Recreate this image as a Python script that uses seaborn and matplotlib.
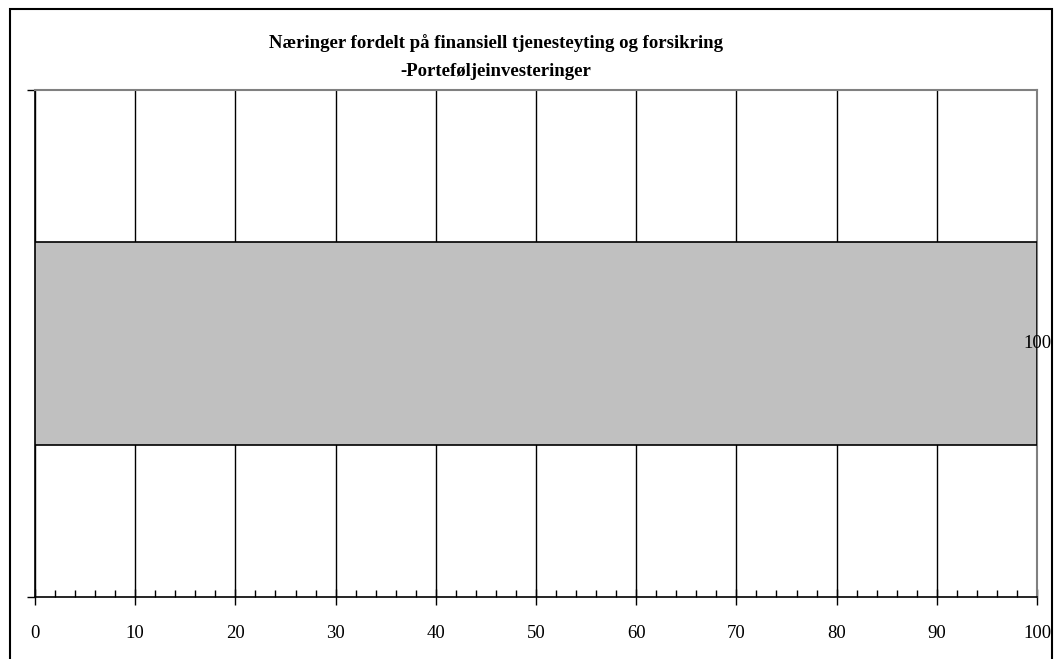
import matplotlib
matplotlib.use("Agg")
import matplotlib.pyplot as plt
import matplotlib.patches as patches
from matplotlib.ticker import MultipleLocator
import pandas as pd
import seaborn as sns

# ------ DATA ------ #
categories = ["Finansiell tjenesteyting og forsikring"]
values = [100]
title = "Næringer fordelt på finansiell tjenesteyting og forsikring\n-Porteføljeinvesteringer"

df = pd.DataFrame({"naering": categories, "andel": values})

# ------ STYLE ------ #
sns.set_style("white", {"text.color": "black", "xtick.color": "black",
                        "ytick.color": "black", "axes.labelcolor": "black"})
plt.rcParams["font.family"] = ["Liberation Serif", "DejaVu Serif"]

fig = plt.figure(figsize=(10.56, 6.59), dpi=100)
ax = fig.add_axes([35 / 1056, 1 - 597 / 659, (1037 - 35) / 1056, (597 - 90) / 659])

# ------ PLOT ------ #
sns.barplot(data=df, x="andel", y="naering", orient="h", color="#C0C0C0",
            saturation=1, width=0.4, edgecolor="black", linewidth=1.2, ax=ax, zorder=3)

ax.set_xlim(0, 100)
ax.set_ylim(0.5, -0.5)
ax.xaxis.set_major_locator(MultipleLocator(10))
ax.xaxis.set_minor_locator(MultipleLocator(2))
ax.grid(axis="x", which="major", color="black", linewidth=1, zorder=0)
ax.set_axisbelow(True)

ax.set_xlabel("")
ax.set_ylabel("")
ax.set_yticks([0.5, -0.5])
ax.set_yticklabels([])
ax.tick_params(axis="y", left=True, direction="out", length=6, width=1, color="black")
ax.tick_params(axis="x", which="major", bottom=True, direction="inout", length=12, width=1,
               color="black", labelcolor="black", labelsize=13.5, pad=14)
ax.tick_params(axis="x", which="minor", bottom=True, direction="in", length=5, width=1,
               color="black")

for side in ["top", "right"]:
    ax.spines[side].set_color("#808080")
    ax.spines[side].set_linewidth(1.5)
for side in ["left", "bottom"]:
    ax.spines[side].set_color("black")
    ax.spines[side].set_linewidth(1.2)

# data label
for cont in ax.containers:
    for bar, v in zip(cont, values):
        ax.text(bar.get_x() + bar.get_width(), bar.get_y() + bar.get_height() / 2,
                f"{v}", ha="center", va="center", fontsize=13.5, color="black", zorder=5)

fig.text(496 / 1056, 1 - 57 / 659, title, ha="center", va="center", color="black",
         fontsize=13.5, fontweight="bold", linespacing=1.9)

# chart area border
border = patches.Rectangle((10 / 1056, -0.05), (1052 - 10) / 1056, 1.05 - 9 / 659,
                           transform=fig.transFigure, fill=False,
                           edgecolor="black", linewidth=1.5)
fig.patches.append(border)

fig.savefig("out.png", dpi=100)
